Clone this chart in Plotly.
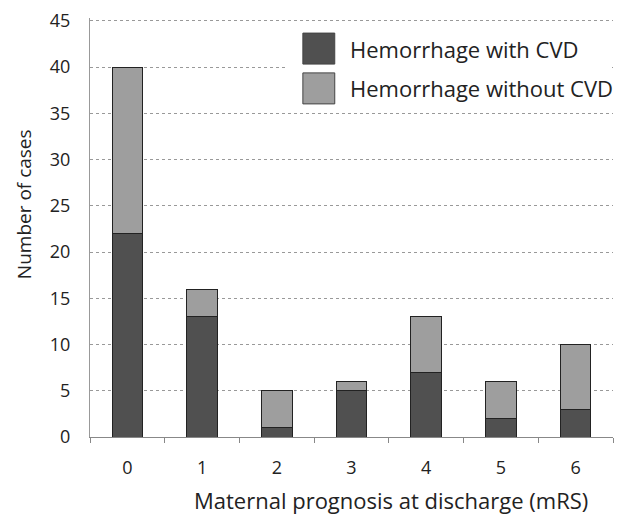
import plotly.graph_objects as go

categories = ["0", "1", "2", "3", "4", "5", "6"]
with_cvd = [22, 13, 1, 5, 7, 2, 3]
without_cvd = [18, 3, 4, 1, 6, 4, 7]
series_names = ["Hemorrhage with CVD", "Hemorrhage without CVD"]
y_max = 45
y_step = 5

colors = ["#505050", "#9e9e9e"]
font = "Open Sans, Lato, sans-serif"

fig = go.Figure()
for name, vals, col in zip(series_names, [with_cvd, without_cvd], colors):
    fig.add_trace(
        go.Bar(
            x=categories,
            y=vals,
            name=name,
            marker=dict(color=col, line=dict(color="#222222", width=1)),
            showlegend=False,
        )
    )

# Legend drawn by hand so the swatches are large like the original
fig.add_shape(type="rect", xref="paper", yref="paper", x0=0.373, x1=0.995,
              y0=0.79, y1=0.975, fillcolor="white", line_width=0, layer="above")
swatch_y = [(0.89, 0.964), (0.795, 0.869)]
for name, col, (y0, y1) in zip(series_names, colors, swatch_y):
    fig.add_shape(type="rect", xref="paper", yref="paper", x0=0.407, x1=0.468,
                  y0=y0, y1=y1, fillcolor=col, line=dict(color="#444", width=1),
                  layer="above")
    fig.add_annotation(xref="paper", yref="paper", x=0.493, y=(y0 + y1) / 2,
                       text=name, showarrow=False, xanchor="left", yanchor="middle",
                       font=dict(family=font, size=22, color="#222"))

# Axis titles (placed as in the original, a bit off-centre)
fig.add_annotation(xref="paper", yref="paper", x=0.576, y=-0.151,
                   text="Maternal prognosis at discharge (mRS)", showarrow=False,
                   xanchor="center", yanchor="middle",
                   font=dict(family=font, size=22, color="#222"))
fig.add_annotation(xref="paper", yref="paper", x=-0.126, y=0.556,
                   text="Number of cases", showarrow=False, textangle=-90,
                   xanchor="center", yanchor="middle",
                   font=dict(family=font, size=19, color="#222"))

fig.update_layout(
    barmode="stack",
    bargap=0.59,
    width=625,
    height=515,
    margin=dict(l=82, r=20, t=10, b=86, autoexpand=False),
    plot_bgcolor="white",
    paper_bgcolor="white",
    font=dict(family=font, size=18, color="#222"),
    xaxis=dict(
        showline=True, linecolor="#888", linewidth=1,
        ticks="outside", tickson="boundaries", ticklen=5, tickcolor="#888",
        ticklabelstandoff=14, automargin=False,
        showgrid=False,
    ),
    yaxis=dict(
        range=[0, y_max + 0.3], tickmode="linear", tick0=0, dtick=y_step,
        showline=True, linecolor="#999", linewidth=1,
        showgrid=True, gridcolor="#999", griddash="dot", gridwidth=1,
        zeroline=False, ticks="", ticklabelstandoff=15,
        ticklabeloverflow="allow", automargin=False,
    ),
)

fig.write_html("out.html")
